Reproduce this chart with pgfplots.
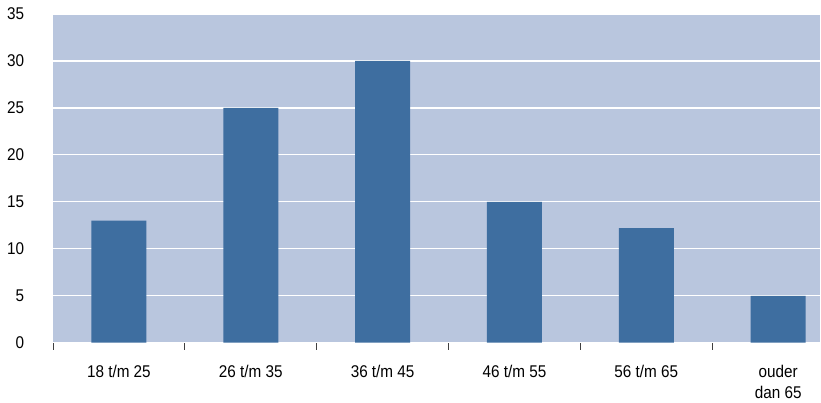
\documentclass[border=0pt]{standalone}
\usepackage{pgfplots}
\pgfplotsset{compat=1.18}
\usepackage{fontspec}
\setmainfont{Liberation Sans}[FakeStretch=0.9]
\definecolor{bgc}{HTML}{B9C6DE}
\definecolor{barc}{HTML}{3E6EA0}
\definecolor{tickc}{HTML}{404040}
\begin{document}
\begin{tikzpicture}
\begin{axis}[
  name=ax,
  scale only axis,
  width=768pt, height=329pt,
  xmin=-0.5, xmax=5.32,
  ymin=0, ymax=35,
  axis background/.style={fill=bgc},
  axis line style={draw=none},
  ytick={0,5,...,35},
  ymajorgrids,
  grid style={white, line width=1.2pt},
  major y tick style={draw=none},
  xtick={0,1,2,3,4,5},
  xticklabels={18 t/m 25,26 t/m 35,36 t/m 45,46 t/m 55,56 t/m 65,ouder\\dan 65},
  major x tick style={draw=none},
  minor xtick={-0.5,0.5,1.5,2.5,3.5,4.5},
  minor x tick style={draw=tickc, line width=0.8pt},
  minor tick length=7pt,
  tick align=outside,
  xtick pos=bottom,
  ytick pos=left,
  xticklabel style={align=center, anchor=north, yshift=-15pt, font=\fontsize{17}{21}\selectfont},
  yticklabel style={anchor=east, xshift=-21pt, font=\fontsize{17}{18}\selectfont},
  /pgf/number format/assume math mode=true,
  clip=true,
]
\addplot[ybar, bar width=0.417, fill=barc, draw=none] coordinates {
(0,13) (1,25) (2,30) (3,15) (4,12.2) (5,5)
};
\end{axis}
\path ([xshift=-53pt,yshift=-59pt]ax.south west) ([yshift=14pt]ax.north east);
\end{tikzpicture}
\end{document}
